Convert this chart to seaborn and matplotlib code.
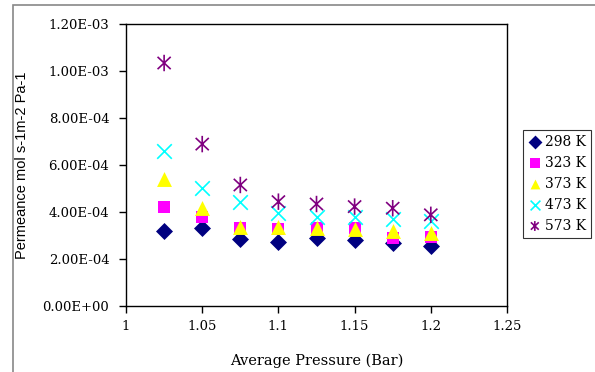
import matplotlib
matplotlib.use("Agg")
import matplotlib.pyplot as plt
import seaborn as sns
import pandas as pd
from matplotlib.path import Path
from matplotlib.patches import Rectangle

pressure = [1.025, 1.05, 1.075, 1.1, 1.125, 1.15, 1.175, 1.2]
p298 = [3.19e-4, 3.34e-4, 2.85e-4, 2.74e-4, 2.88e-4, 2.80e-4, 2.70e-4, 2.56e-4]
p323 = [4.23e-4, 3.80e-4, 3.31e-4, 3.27e-4, 3.30e-4, 3.31e-4, 2.88e-4, 2.93e-4]
p373 = [5.42e-4, 4.16e-4, 3.35e-4, 3.35e-4, 3.30e-4, 3.26e-4, 3.18e-4, 3.12e-4]
p473 = [6.60e-4, 5.04e-4, 4.44e-4, 3.97e-4, 3.80e-4, 3.78e-4, 3.72e-4, 3.62e-4]
p573 = [10.34e-4, 6.89e-4, 5.15e-4, 4.44e-4, 4.34e-4, 4.23e-4, 4.16e-4, 3.88e-4]
labels = ["298 K", "323 K", "373 K", "473 K", "573 K"]
yticks = [0, 2e-4, 4e-4, 6e-4, 8e-4, 10e-4, 12e-4]
ytick_labels = ["0.00E+00", "2.00E-04", "4.00E-04", "6.00E-04", "8.00E-04", "1.00E-03", "1.20E-03"]
xticks = [1, 1.05, 1.1, 1.15, 1.2, 1.25]
xtick_labels = ["1", "1.05", "1.1", "1.15", "1.2", "1.25"]

sns.set_style("white")
plt.rcParams['font.family'] = ['DejaVu Serif']
plt.rcParams['text.color'] = 'black'
plt.rcParams['axes.labelcolor'] = 'black'
plt.rcParams['xtick.color'] = 'black'
plt.rcParams['ytick.color'] = 'black'

# asterisk marker: vertical line plus an X
star = Path([(0, -1), (0, 1), (-0.8, -0.75), (0.8, 0.75), (-0.8, 0.75), (0.8, -0.75)],
            [Path.MOVETO, Path.LINETO, Path.MOVETO, Path.LINETO, Path.MOVETO, Path.LINETO])

series = [p298, p323, p373, p473, p573]
colors = ["#000080", "#FF00FF", "#FFFF00", "#00FFFF", "#800080"]
markers = ["D", "s", "^", "x", star]
sizes = [75, 85, 115, 110, 140]
line_art = [False, False, False, True, True]

fig = plt.figure(figsize=(5.95, 3.72), dpi=100)
ax = fig.add_axes([0.2118, 0.1774, 0.8521 - 0.2118, 0.9355 - 0.1774])

for vals, lab, col, mk, sz, la in zip(series, labels, colors, markers, sizes, line_art):
    df = pd.DataFrame({"x": pressure, "y": vals})
    if la:
        sns.scatterplot(data=df, x="x", y="y", ax=ax, marker=mk, color=col, s=sz,
                        facecolors='none' if mk is star else col, edgecolors=col,
                        linewidth=1.2, label=lab)
    else:
        sns.scatterplot(data=df, x="x", y="y", ax=ax, marker=mk, color=col, s=sz,
                        edgecolor=col, linewidth=0, label=lab)

ax.set_xlim(1, 1.25)
ax.set_ylim(0, 1.2e-3)
ax.set_xticks(xticks)
ax.set_xticklabels(xtick_labels)
ax.set_yticks(yticks)
ax.set_yticklabels(ytick_labels)
ax.tick_params(axis='both', direction='out', length=5, width=1, color='black',
               labelcolor='black', labelsize=9.5, bottom=True, left=True)
ax.tick_params(axis='y', pad=7)
ax.tick_params(axis='x', pad=5)
for sp in ax.spines.values():
    sp.set_color('black')
    sp.set_linewidth(1)

ax.set_xlabel("Average Pressure (Bar)", fontsize=10.5, labelpad=15, color='black')
ax.set_ylabel("")
fig.text(0.037, 0.556, "Permeance mol s-1m-2 Pa-1", rotation=90, ha='center', va='center',
         fontsize=10.5, color='black', family=['Liberation Sans', 'DejaVu Sans'])

leg = ax.legend(loc='upper left', bbox_to_anchor=(0.879, 0.6505), bbox_transform=fig.transFigure,
                frameon=True, fancybox=False, fontsize=10, handletextpad=0.2,
                handlelength=1.0, borderpad=0.35, labelspacing=0.5, borderaxespad=0)
leg.get_frame().set_edgecolor('black')
leg.get_frame().set_linewidth(0.8)
for t in leg.get_texts():
    t.set_color('black')
for h in leg.legend_handles:
    try:
        h.set_sizes([50])
    except Exception:
        pass

# outer chart border
fig.patches.append(Rectangle((13 / 595, -0.1), 1.2, (372 - 5) / 372 + 0.1, transform=fig.transFigure,
                             fill=False, edgecolor='#888888', linewidth=1.2))

fig.savefig("out.png", dpi=100)
